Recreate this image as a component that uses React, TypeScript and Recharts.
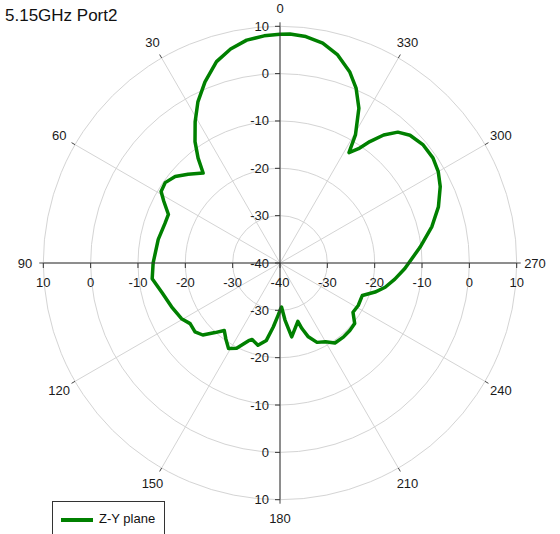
import { RadarChart, Radar, PolarGrid, PolarAngleAxis, PolarRadiusAxis } from 'recharts';

// Z-Y plane pattern, angle in degrees (0 at top, counter-clockwise), gain in dB
const angles = [
  0, 4, 8.5, 13, 17.5, 22.5, 27, 31, 35, 38, 40.5,
  46, 50.5, 55, 59, 62, 66.5, 71, 79, 90, 97,
  104, 112, 119.5, 124, 129, 133, 137, 140.5, 144.5, 149,
  153, 158, 160, 165, 170, 174, 178, 180, 182, 185,
  189, 197, 198.5, 201, 205, 210, 214.5, 220.5, 226, 231,
  236, 241.5, 248.5, 253, 257, 262, 267.5, 276.5, 283.5, 289.5,
  295.5, 300, 304.5, 309.5, 314.5, 318, 321, 323.5, 325.5, 328,
  329.5, 333, 336.5, 340, 344.5, 349, 353.5, 357.5,
];
const gains = [
  8.3, 8.1, 7.6, 6.4, 4.6, 1.4, -1.8, -5.2, -8.7, -11.9, -15.0,
  -13.0, -11.3, -10.4, -10.7, -12.2, -14.3, -14.3, -13.8, -13.2, -12.8,
  -14.3, -15.3, -16.1, -17.1, -16.9, -17.7, -19.9, -21.5, -20.3, -18.9,
  -19.8, -22.3, -22.8, -22.0, -23.4, -26.4, -29.0, -30.0, -30.7, -27.9,
  -24.2, -27.1, -25.4, -23.3, -21.5, -20.8, -19.5, -19.4, -19.5, -19.7,
  -21.4, -21.2, -21.3, -19.0, -17.2, -15.5, -13.6, -10.2, -7.0, -4.5,
  -2.5, -1.4, -0.8, -0.8, -1.5, -2.8, -5.2, -8.1, -10.7, -12.5,
  -8.6, -3.3, 0.3, 3.0, 5.6, 7.3, 8.15, 8.4,
];
const angleTicks = [0, 30, 60, 90, 120, 150, 180, 210, 240, 270, 300, 330];
const radiusTicks = [-40, -30, -20, -10, 0, 10];

const CX = 280;
const CY = 263;
const R = 236.7;
const FONT = "Arial, 'Liberation Sans', sans-serif";

const data = angles.map((a, i) => ({ angle: a, gain: gains[i] }));

const AngleTick = (props: any) => {
  const deg = props.payload?.coordinate ?? 90 + props.payload.value;
  const a = (deg * Math.PI) / 180;
  const x = CX + 255 * Math.cos(a);
  const y = CY - 255 * Math.sin(a);
  return (
    <text x={x} y={y} textAnchor="middle" dominantBaseline="central" fontSize={13} fontFamily={FONT} fill="#1a1a1a">
      {props.payload.value}
    </text>
  );
};

const radiusTick = (side: string) => (props: any) => {
  const { x, y, payload } = props;
  if (payload.value === -40 && (side === 'bottom' || side === 'right')) return <g />;
  const vertical = side === 'top' || side === 'bottom';
  if (vertical) {
    return (
      <g>
        <line x1={x - 5} y1={y} x2={x} y2={y} stroke="#333" />
        <text x={x - 11} y={y} textAnchor="end" dominantBaseline="central" fontSize={13} fontFamily={FONT} fill="#1a1a1a">
          {payload.value}
        </text>
      </g>
    );
  }
  return (
    <g>
      <line x1={x} y1={y} x2={x} y2={y + 5} stroke="#333" />
      <text x={x} y={y + 19} textAnchor="middle" dominantBaseline="central" fontSize={13} fontFamily={FONT} fill="#1a1a1a">
        {payload.value}
      </text>
    </g>
  );
};

export default function App() {
  return (
    <div style={{ position: 'absolute', left: 0, top: 0, width: 560, height: 534, overflow: 'hidden', background: '#fff', fontFamily: FONT }}>
      <RadarChart
        width={560}
        height={534}
        data={data}
        cx={CX}
        cy={CY}
        innerRadius={0}
        outerRadius={R}
        startAngle={90}
        endAngle={450}
        margin={{ top: 0, right: 0, bottom: 0, left: 0 }}
      >
        <PolarGrid gridType="circle" stroke="#d4d4d4" />
        <PolarAngleAxis
          dataKey="angle"
          type="number"
          domain={[0, 360]}
          ticks={angleTicks}
          tick={AngleTick}
          tickSize={4}
          tickLine={{ stroke: '#444' }}
          axisLine={false}
        />
        <PolarRadiusAxis radiusAxisId={0} angle={90} type="number" domain={[-40, 10]} ticks={radiusTicks} allowDataOverflow tick={radiusTick('top')} axisLine={{ stroke: '#333' }} />
        <PolarRadiusAxis radiusAxisId="b" angle={270} type="number" domain={[-40, 10]} ticks={radiusTicks} allowDataOverflow tick={radiusTick('bottom')} axisLine={{ stroke: '#333' }} />
        <PolarRadiusAxis radiusAxisId="l" angle={180} type="number" domain={[-40, 10]} ticks={radiusTicks} allowDataOverflow tick={radiusTick('left')} axisLine={{ stroke: '#333' }} />
        <PolarRadiusAxis radiusAxisId="r" angle={0} type="number" domain={[-40, 10]} ticks={radiusTicks} allowDataOverflow tick={radiusTick('right')} axisLine={{ stroke: '#333' }} />
        <Radar
          dataKey="gain"
          name="Z-Y plane"
          stroke="#008000"
          strokeWidth={3.5}
          strokeLinejoin="round"
          fill="none"
          fillOpacity={0}
          dot={false}
          isAnimationActive={false}
        />
      </RadarChart>
      <div style={{ position: 'absolute', left: 5, top: 6, fontSize: 17, color: '#111', lineHeight: '20px' }}>5.15GHz Port2</div>
      <div style={{ position: 'absolute', left: 52, top: 501, width: 113, height: 40, border: '1px solid #333', boxSizing: 'border-box' }}>
        <div style={{ position: 'absolute', left: 8, top: 16, width: 32, height: 4, background: '#008000' }} />
        <div style={{ position: 'absolute', left: 46, top: 9, fontSize: 13, lineHeight: '16px', color: '#111' }}>Z-Y plane</div>
      </div>
    </div>
  );
}
